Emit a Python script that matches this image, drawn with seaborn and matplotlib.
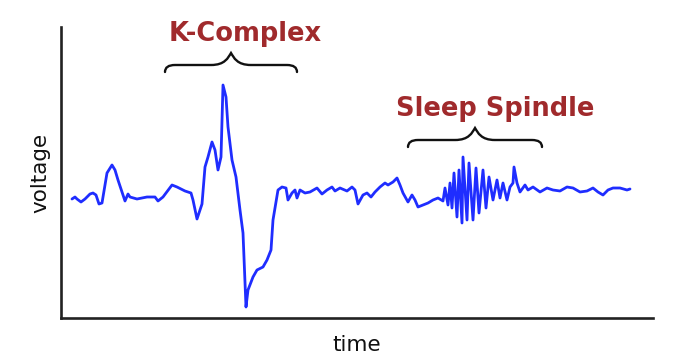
import numpy as np
import pandas as pd
import matplotlib
matplotlib.use("Agg")
import matplotlib.pyplot as plt
from matplotlib.path import Path
from matplotlib.patches import PathPatch
import seaborn as sns

# --- data (arbitrary units) ---
time = [11, 14, 16, 20, 24, 29, 32, 35, 38, 41, 46, 51, 54, 57, 61, 64, 67, 69,
        76, 86, 94, 97, 102, 111, 116, 124, 130, 132, 136, 141, 144, 147, 151,
        154, 157, 160, 162, 165, 167, 171, 175, 179, 182, 185, 187, 192, 196,
        202, 206, 210, 212, 217, 221, 225, 227, 231, 234, 236,
        239, 244, 249, 256, 261, 266, 271, 274, 279, 286, 291, 294, 297, 302,
        306, 310, 314, 319, 324, 327, 332, 336, 339, 342, 347, 351, 354, 357,
        362, 367, 372, 377, 382, 384, 387, 389, 391, 393, 396, 398, 401, 402,
        406, 408, 412, 415, 418, 422, 425, 428, 432, 436, 439, 442, 446, 449,
        452, 453, 456, 459, 464, 467, 472, 479, 486, 492, 499, 506, 512, 519,
        526, 532, 537, 542, 547, 552, 559, 566, 569]
voltage = [119, 121, 119, 116, 119, 124, 125, 123, 114, 115, 145, 153, 148, 138,
           126, 117, 124, 121, 119, 121, 121, 117, 121, 133, 131, 127, 125, 118,
           99, 114, 151, 161, 176, 168, 148, 161, 233, 221, 191, 158, 141, 108,
           85, 11, 28, 41, 48, 51, 58, 68, 98, 128, 131, 130, 118, 125, 128, 120,
           128, 125, 126, 130, 124, 128, 131, 127, 130, 127, 131, 128, 114, 123,
           125, 121, 126, 131, 135, 133, 136, 140, 133, 125, 116, 123, 118, 111,
           113, 115, 118, 120, 117, 130, 113, 135, 110, 145, 101, 148, 95, 161,
           98, 155, 98, 150, 105, 148, 110, 141, 118, 138, 120, 135, 118, 131,
           135, 151, 135, 126, 133, 128, 131, 126, 130, 128, 127, 131, 130, 126,
           127, 130, 126, 123, 128, 130, 130, 128, 129]

labels = ["K-Complex", "Sleep Spindle"]
spans = [(104, 236), (347, 481)]       # time ranges covered by each brace
brace_levels = [253, 178]               # voltage level of each brace's bar
label_shift = [14, 20]                  # horizontal label offset from brace centre

df = pd.DataFrame({"time": time, "voltage": voltage})

sns.set_style("white")
plt.rcParams["font.family"] = ["DejaVu Sans"]

fig = plt.figure(figsize=(6.88, 3.64), dpi=100)
ax = fig.add_axes([61 / 688, 1 - 318 / 364, (653 - 61) / 688, (318 - 27) / 364])

sns.lineplot(data=df, x="time", y="voltage", ax=ax, estimator=None,
             color="#1f2dff", linewidth=2.0)

ax.set_xlim(0, 592)
ax.set_ylim(0, 291)
ax.set_xticks([])
ax.set_yticks([])
for s in ["top", "right"]:
    ax.spines[s].set_visible(False)
for s in ["left", "bottom"]:
    ax.spines[s].set_color("#222222")
    ax.spines[s].set_linewidth(1.9)

ax.set_xlabel("time", fontsize=15.5, labelpad=12, color="#111111")
ax.set_ylabel("voltage", fontsize=15.5, labelpad=8, color="#111111")


def brace(ax, x0, x1, y0, drop=7, rise=12):
    xm = (x0 + x1) / 2
    r = 10
    verts = [
        (x0, y0 - drop), (x0, y0), (x0 + r, y0),
        (xm - 2 * r, y0),
        (xm - 6, y0), (xm - 3, y0 + rise * 0.6), (xm, y0 + rise),
        (xm + 3, y0 + rise * 0.6), (xm + 6, y0), (xm + 2 * r, y0),
        (x1 - r, y0),
        (x1, y0), (x1, y0 - drop),
    ]
    codes = [Path.MOVETO, Path.CURVE3, Path.CURVE3,
             Path.LINETO,
             Path.CURVE4, Path.CURVE4, Path.CURVE4,
             Path.CURVE4, Path.CURVE4, Path.CURVE4,
             Path.LINETO,
             Path.CURVE3, Path.CURVE3]
    ax.add_patch(PathPatch(Path(verts, codes), fill=False, lw=1.7,
                           edgecolor="#111111", capstyle="round"))


for lab, (a, b), lvl, dx in zip(labels, spans, brace_levels, label_shift):
    brace(ax, a, b, lvl)
    ax.text((a + b) / 2 + dx, lvl + 31, lab, ha="center", va="center",
            fontsize=18.5, fontweight="bold", color="#a02a2c")

fig.savefig("out.png", dpi=100)
